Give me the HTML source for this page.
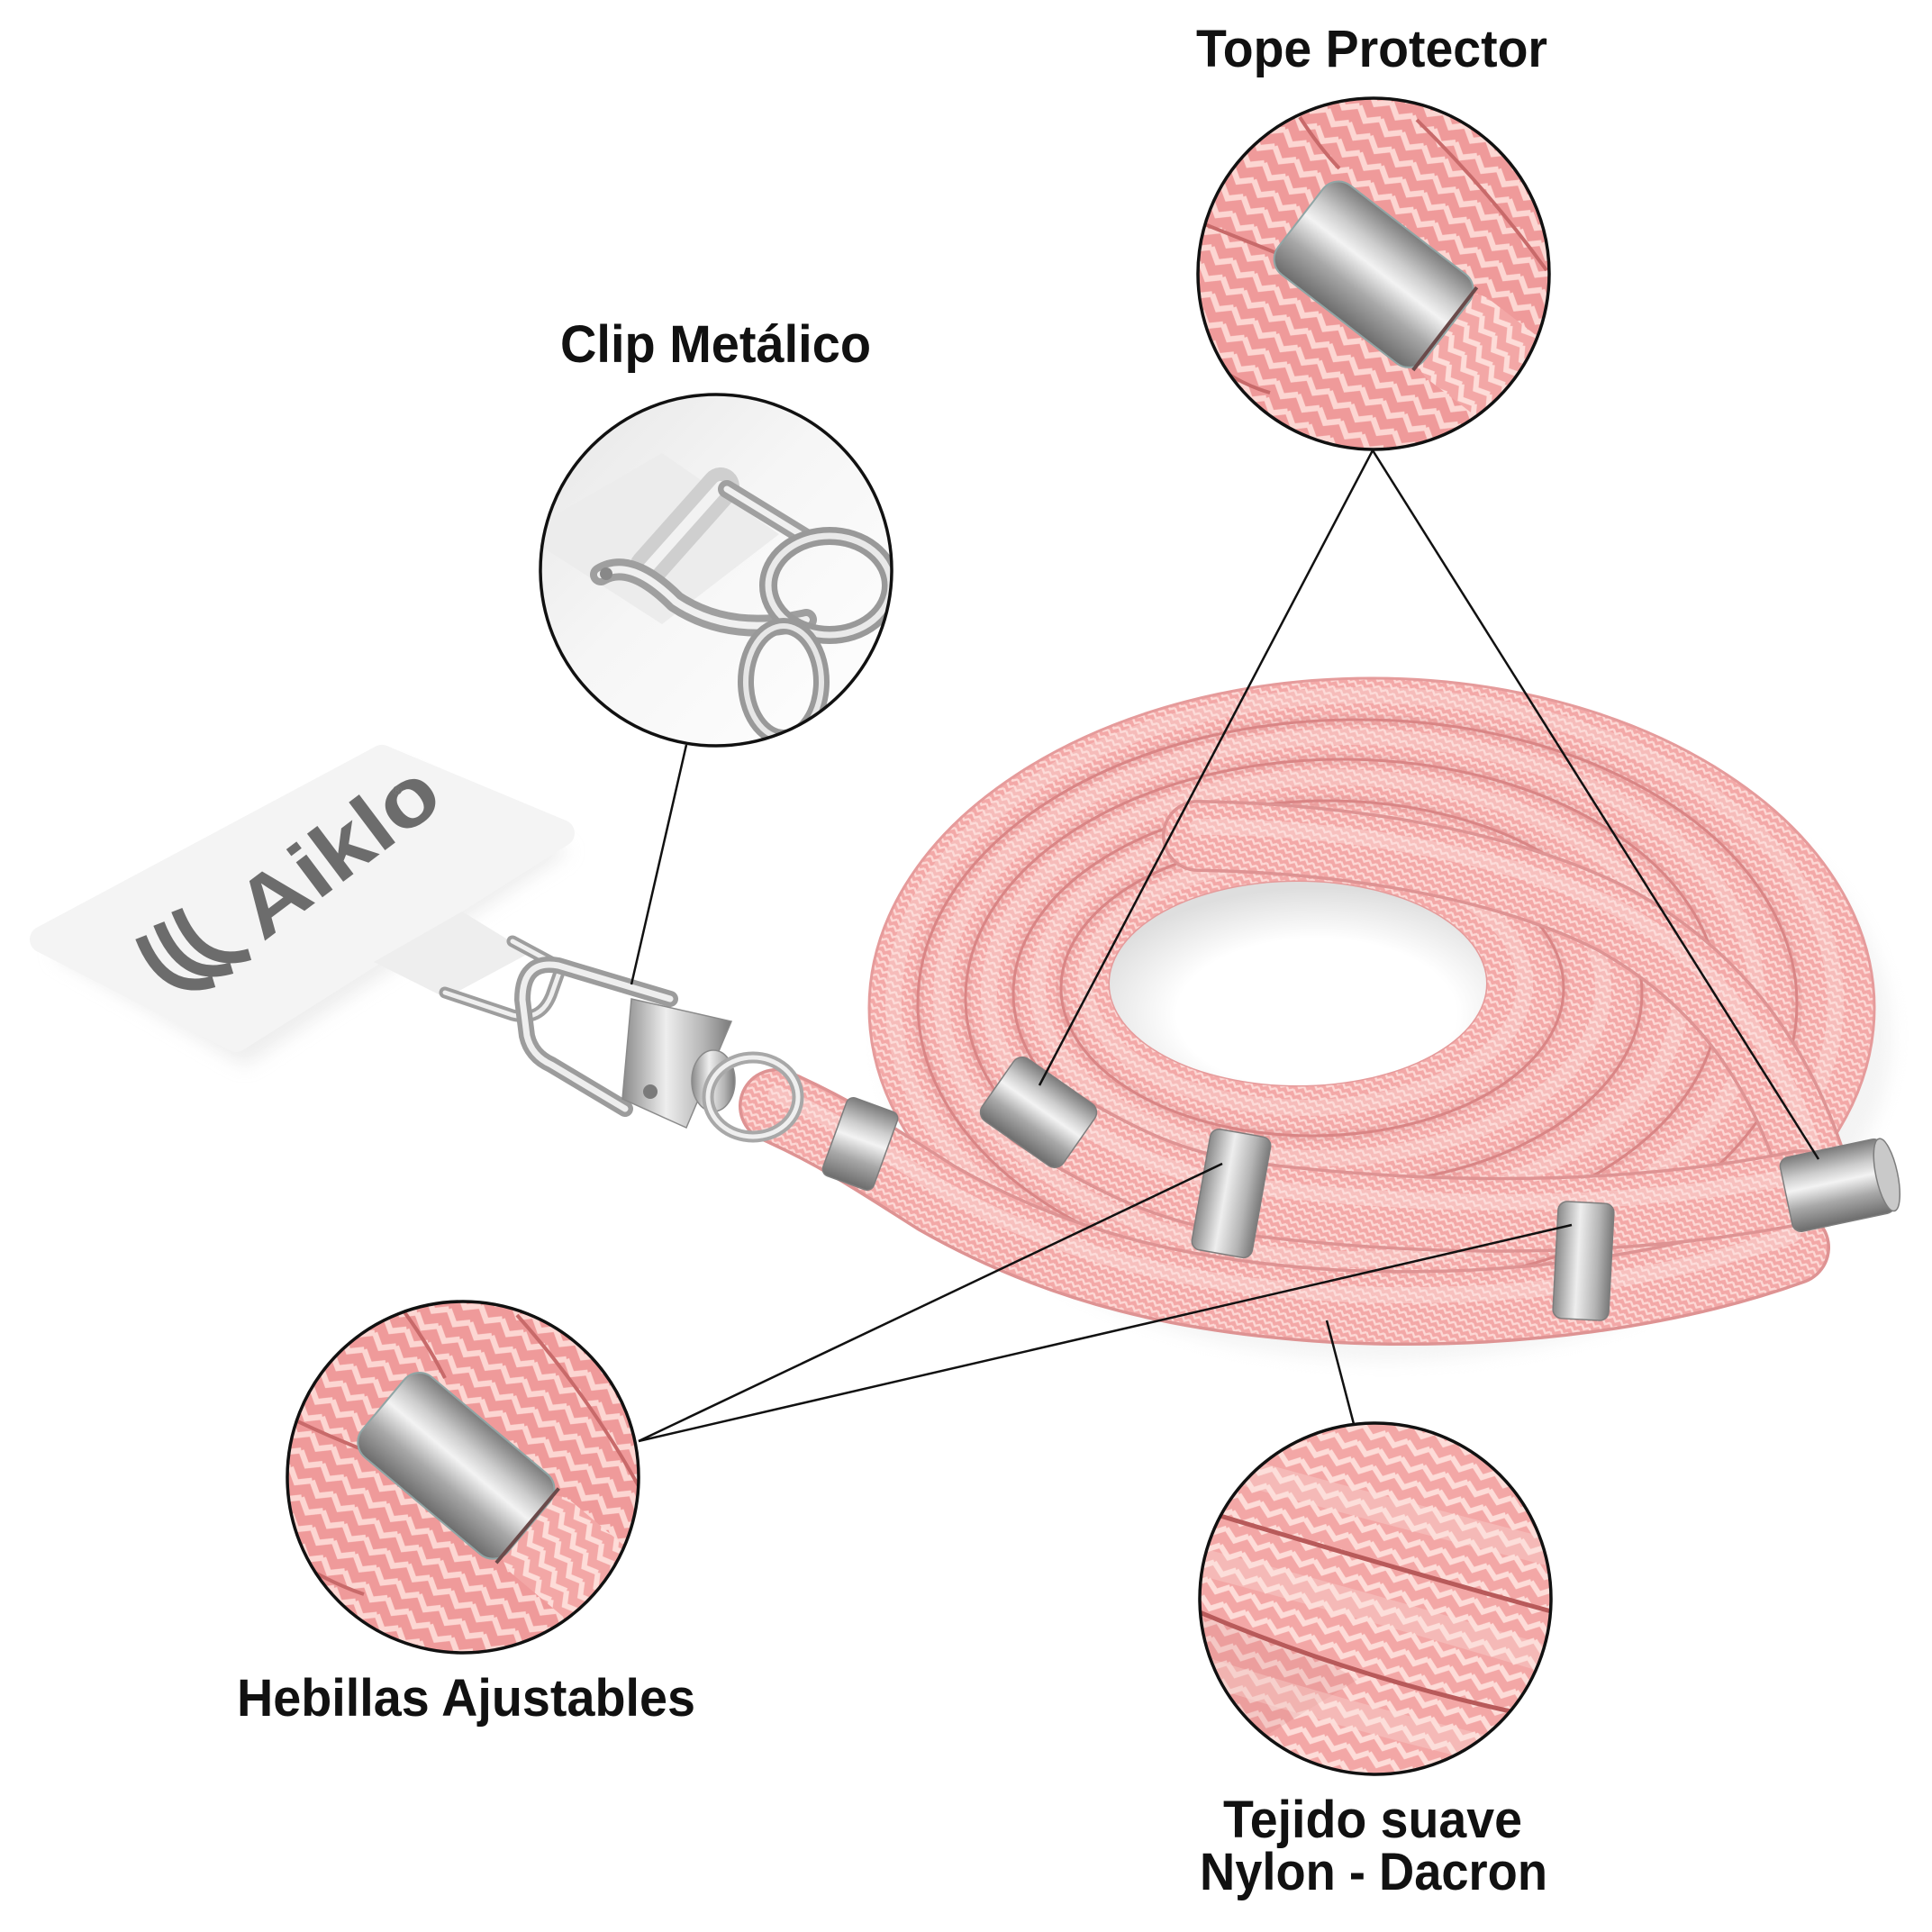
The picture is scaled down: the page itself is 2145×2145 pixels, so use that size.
<!DOCTYPE html>
<html><head><meta charset="utf-8">
<style>
html,body{margin:0;padding:0;background:#fff;}
svg{display:block;}
.lbl{font-family:"Liberation Sans",sans-serif;font-weight:700;fill:#111;}
</style></head><body>
<svg width="2145" height="2145" viewBox="0 0 2145 2145" xmlns="http://www.w3.org/2000/svg">
<defs>
 <pattern id="br" width="9" height="8" patternUnits="userSpaceOnUse" patternTransform="rotate(28)">
   <rect width="9" height="8" fill="#f3a8a7"/>
   <path d="M0,1.5 L4.5,5.5 L9,1.5" stroke="#fcd8d5" stroke-width="2.4" fill="none"/>
 </pattern>
 <pattern id="brB" width="28" height="22" patternUnits="userSpaceOnUse" patternTransform="rotate(32)">
   <rect width="28" height="22" fill="#ef9a9a"/>
   <path d="M0,4 L14,15 L28,4" stroke="#fcd6d2" stroke-width="6.5" fill="none"/>
 </pattern>
 <pattern id="brC" width="26" height="20" patternUnits="userSpaceOnUse" patternTransform="rotate(20)">
   <rect width="26" height="20" fill="#f3a7a6"/>
   <path d="M0,3 L13,13 L26,3" stroke="#fddcd8" stroke-width="6" fill="none"/>
 </pattern>
 <linearGradient id="silv" x1="0" y1="0" x2="0" y2="1">
   <stop offset="0" stop-color="#7b7b7b"/>
   <stop offset="0.28" stop-color="#cdcdcd"/>
   <stop offset="0.45" stop-color="#f3f3f3"/>
   <stop offset="0.7" stop-color="#a8a8a8"/>
   <stop offset="1" stop-color="#6c6c6c"/>
 </linearGradient>
 <linearGradient id="silvX" x1="0" y1="0" x2="1" y2="0">
   <stop offset="0" stop-color="#8a8a8a"/>
   <stop offset="0.4" stop-color="#eeeeee"/>
   <stop offset="0.75" stop-color="#b4b4b4"/>
   <stop offset="1" stop-color="#7a7a7a"/>
 </linearGradient>
 <radialGradient id="holeG" cx="0.55" cy="0.65" r="0.62">
   <stop offset="0.6" stop-color="#ffffff"/>
   <stop offset="1" stop-color="#dedede"/>
 </radialGradient>
 <linearGradient id="clipBg" x1="0" y1="0" x2="1" y2="1">
   <stop offset="0" stop-color="#e6e6e6"/>
   <stop offset="0.45" stop-color="#f6f6f6"/>
   <stop offset="1" stop-color="#ffffff"/>
 </linearGradient>
 <filter id="blur" x="-20%" y="-20%" width="140%" height="140%"><feGaussianBlur stdDeviation="10"/></filter>
 <clipPath id="cc"><circle cx="0" cy="0" r="195"/></clipPath>
</defs>

<rect width="2145" height="2145" fill="#fff"/>

<!-- ===== Card ===== -->
<polygon points="58,1060 434,852 633,945 272,1183" fill="#dcdcdc" opacity="0.5" filter="url(#blur)"/>
<polygon points="48,1043 424,842 623,925 262,1153" fill="#f4f4f4" stroke="#f4f4f4" stroke-width="30" stroke-linejoin="round"/>
<polygon points="415,1068 513,1012 588,1058 495,1108" fill="#eeeeee"/>
<g transform="translate(292,1046) rotate(-37)" fill="#6c6c6c">
  <text x="0" y="0" font-size="92" textLength="255" lengthAdjust="spacingAndGlyphs" style="font-family:'Liberation Sans',sans-serif;font-weight:700;fill:#6c6c6c">Aiklo</text>
  <path d="M-105,-86 Q-124,-18 -70,2" stroke="#6c6c6c" stroke-width="13" fill="none"/>
  <path d="M-80,-86 Q-99,-18 -45,2" stroke="#6c6c6c" stroke-width="13" fill="none"/>
  <path d="M-55,-86 Q-74,-18 -20,2" stroke="#6c6c6c" stroke-width="13" fill="none"/>
</g>
<text x="436" y="882" font-size="14" style="font-family:'Liberation Sans',sans-serif;fill:#777">®</text>

<!-- ===== Coil ===== -->
<ellipse cx="1540" cy="1150" rx="560" ry="360" fill="#e6e6e6" opacity="0.45" filter="url(#blur)"/>
<path fill-rule="evenodd" fill="url(#br)" stroke="#e59b9b" stroke-width="3"
 d="M965,1119 a558,366 0 1,0 1116,0 a558,366 0 1,0 -1116,0 Z M1232,1092 a209,113 0 1,0 418,0 a209,113 0 1,0 -418,0 Z"/>
<ellipse cx="1441" cy="1092" rx="209" ry="113" fill="url(#holeG)"/>
<g fill="none">
  <g stroke="#fde3e0" stroke-opacity="0.35" stroke-width="18">
    <ellipse cx="1515" cy="1113" rx="523" ry="341"/>
    <ellipse cx="1498" cy="1108" rx="453" ry="290"/>
    <ellipse cx="1482" cy="1103" rx="384" ry="240"/>
    <ellipse cx="1466" cy="1097" rx="314" ry="189"/>
    <ellipse cx="1449" cy="1092" rx="244" ry="138"/>
  </g>
  <g stroke="#c87070" stroke-opacity="0.14" stroke-width="12">
    <ellipse cx="1507" cy="1114" rx="488" ry="315"/>
    <ellipse cx="1490" cy="1108" rx="418" ry="265"/>
    <ellipse cx="1474" cy="1103" rx="349" ry="214"/>
    <ellipse cx="1457" cy="1097" rx="279" ry="164"/>
  </g>
  <g stroke="#d98585" stroke-width="3">
    <ellipse cx="1507" cy="1114" rx="488" ry="315"/>
    <ellipse cx="1490" cy="1108" rx="418" ry="265"/>
    <ellipse cx="1474" cy="1103" rx="349" ry="214"/>
    <ellipse cx="1457" cy="1097" rx="279" ry="164"/>
  </g>
</g>

<!-- crossing strand -->
<g fill="none" stroke-linecap="round">
  <path d="M1330,928 C1460,930 1650,950 1790,1020 C1900,1080 1970,1170 2010,1290" stroke="#de9393" stroke-width="80"/>
  <path d="M1330,928 C1460,930 1650,950 1790,1020 C1900,1080 1970,1170 2010,1290" stroke="url(#br)" stroke-width="73"/>
  <path d="M1330,918 C1460,918 1650,938 1795,1008 C1905,1068 1975,1160 2015,1280" stroke="#fde3e0" stroke-opacity="0.4" stroke-width="18"/>
</g>

<!-- front strand S1 (bottom, from clip) -->
<g fill="none" stroke-linecap="round">
  <path d="M862,1228 C930,1258 980,1292 1040,1330 C1180,1410 1320,1440 1480,1450 C1680,1460 1860,1432 1990,1385" stroke="#de9393" stroke-width="84"/>
  <path d="M862,1228 C930,1258 980,1292 1040,1330 C1180,1410 1320,1440 1480,1450 C1680,1460 1860,1432 1990,1385" stroke="url(#br)" stroke-width="77"/>
  <path d="M862,1214 C930,1244 980,1278 1040,1316 C1180,1396 1320,1426 1480,1436 C1680,1446 1860,1418 1990,1371" stroke="#fde3e0" stroke-opacity="0.4" stroke-width="18"/>
</g>
<!-- front strand S2 -->
<g fill="none" stroke-linecap="round">
  <path d="M1150,1235 C1240,1290 1300,1318 1380,1330 C1550,1352 1780,1362 2000,1318" stroke="#de9393" stroke-width="84"/>
  <path d="M1150,1235 C1240,1290 1300,1318 1380,1330 C1550,1352 1780,1362 2000,1318" stroke="url(#br)" stroke-width="77"/>
  <path d="M1150,1221 C1240,1276 1300,1304 1380,1316 C1550,1338 1780,1348 2000,1304" stroke="#fde3e0" stroke-opacity="0.4" stroke-width="18"/>
</g>

<!-- silver rings -->
<g stroke="#7d7d7d" stroke-width="1.5">
  <g transform="translate(955,1270) rotate(20)"><rect x="-30" y="-46" width="60" height="92" rx="8" fill="url(#silv)"/></g>
  <g transform="translate(1153,1235) rotate(35)"><rect x="-55" y="-42" width="110" height="84" rx="12" fill="url(#silv)"/></g>
  <g transform="translate(1367,1325) rotate(10)"><rect x="-34" y="-68" width="68" height="136" rx="10" fill="url(#silvX)"/></g>
  <g transform="translate(1758,1400) rotate(3)"><rect x="-31" y="-65" width="62" height="130" rx="10" fill="url(#silvX)"/></g>
  <g transform="translate(2040,1316) rotate(-12)"><rect x="-58" y="-42" width="116" height="84" rx="10" fill="url(#silv)"/>
    <ellipse cx="56" cy="0" rx="12" ry="41" fill="#c9c9c9"/></g>
</g>

<!-- ===== main clip ===== -->
<g fill="none" stroke-linecap="round" stroke-linejoin="round">
  <path d="M494,1102 L569,1127 Q600,1135 612,1105 L623,1074 L569,1045" stroke="#9e9e9e" stroke-width="13"/>
  <path d="M494,1102 L569,1127 Q600,1135 612,1105 L623,1074 L569,1045" stroke="#efefef" stroke-width="5"/>
  <path d="M744,1109 L620,1072 Q580,1065 580,1110 L585,1150 Q590,1172 612,1182 L694,1231" stroke="#9c9c9c" stroke-width="18"/>
  <path d="M744,1109 L620,1072 Q580,1065 580,1110 L585,1150 Q590,1172 612,1182 L694,1231" stroke="#eeeeee" stroke-width="7"/>
</g>
<polygon points="701,1109 812,1134 762,1252 691,1220" fill="url(#silvX)" stroke="#8a8a8a" stroke-width="1.5"/>
<circle cx="722" cy="1212" r="8" fill="#7a7a7a"/>
<ellipse cx="792" cy="1200" rx="24" ry="34" fill="url(#silvX)" stroke="#8a8a8a" stroke-width="1.5"/>
<ellipse cx="836" cy="1218" rx="50" ry="44" fill="none" stroke="#a8a8a8" stroke-width="13"/>
<ellipse cx="836" cy="1218" rx="50" ry="44" fill="none" stroke="#efefef" stroke-width="5"/>

<!-- ===== connector lines ===== -->
<g stroke="#111" stroke-width="2.5" fill="none">
  <line x1="762" y1="827" x2="701" y2="1093"/>
  <line x1="1524" y1="500" x2="1154" y2="1205"/>
  <line x1="1524" y1="500" x2="2019" y2="1287"/>
  <line x1="709" y1="1600" x2="1357" y2="1292"/>
  <line x1="709" y1="1600" x2="1745" y2="1360"/>
  <line x1="1473" y1="1466" x2="1503" y2="1581"/>
</g>

<!-- ===== Tope Protector inset ===== -->
<g transform="translate(1525,304)">
  <g clip-path="url(#cc)">
    <rect x="-200" y="-200" width="400" height="400" fill="url(#brB)"/>
    <g fill="none" stroke="#c86a6a" stroke-width="4">
      <path d="M-82,-174 Q-60,-140 -38,-117"/>
      <path d="M48,-171 Q130,-90 192,-4"/>
      <path d="M-200,-60 Q-150,-40 -100,-20"/>
      <path d="M-165,109 Q-140,125 -115,132"/>
    </g>
    <g transform="rotate(37.6)">
      <rect x="90" y="-56" width="180" height="112" rx="30" fill="url(#brC)"/>
      <rect x="-102" y="-62" width="205" height="125" rx="22" fill="url(#silv)" stroke="#8fa5a5" stroke-width="2"/>
      <line x1="100" y1="-58" x2="100" y2="58" stroke="#6a4a4a" stroke-width="4"/>
    </g>
  </g>
  <circle r="195" fill="none" stroke="#111" stroke-width="3.5"/>
</g>

<!-- ===== Hebillas inset ===== -->
<g transform="translate(514,1640)">
  <g clip-path="url(#cc)">
    <rect x="-200" y="-200" width="400" height="400" fill="url(#brB)"/>
    <g fill="none" stroke="#c86a6a" stroke-width="4">
      <path d="M-70,-190 Q-40,-150 -20,-110"/>
      <path d="M60,-180 Q140,-90 195,10"/>
      <path d="M-200,-70 Q-160,-50 -110,-30"/>
      <path d="M-175,100 Q-140,120 -110,130"/>
    </g>
    <g transform="translate(-8,-13) rotate(40)">
      <rect x="95" y="-52" width="180" height="104" rx="30" fill="url(#brC)"/>
      <rect x="-105" y="-58" width="211" height="116" rx="22" fill="url(#silv)" stroke="#8fa5a5" stroke-width="2"/>
      <line x1="104" y1="-54" x2="104" y2="54" stroke="#6a4a4a" stroke-width="4"/>
    </g>
  </g>
  <circle r="195" fill="none" stroke="#111" stroke-width="3.5"/>
</g>

<!-- ===== Tejido inset ===== -->
<g transform="translate(1527,1775)">
  <g clip-path="url(#cc)">
    <rect x="-200" y="-200" width="400" height="400" fill="url(#brC)"/>
    <path d="M-200,20 Q-100,40 -20,90 L-200,200 Z" fill="#d88080" opacity="0.22"/>
    <g fill="none" stroke="#b85a5a" stroke-linecap="round">
      <path d="M-172,-92 Q0,-40 195,14" stroke-width="5"/>
      <path d="M-195,15 Q-30,85 150,125" stroke-width="5"/>
    </g>
    <g fill="none" stroke="#fde3df" stroke-opacity="0.3" stroke-width="30">
      <path d="M-180,-150 Q0,-100 200,-50"/>
      <path d="M-190,-40 Q0,10 200,70"/>
      <path d="M-190,80 Q0,140 180,180"/>
    </g>
  </g>
  <circle r="195" fill="none" stroke="#111" stroke-width="3.5"/>
</g>

<!-- ===== Clip inset ===== -->
<g transform="translate(795,633)">
  <g clip-path="url(#cc)">
    <rect x="-200" y="-200" width="400" height="400" fill="url(#clipBg)"/>
    <polygon points="-215,-40 -60,-130 70,-40 -60,60" fill="#ececec"/>
    <g fill="none" stroke-linecap="round" stroke-linejoin="round">
      <line x1="-75" y1="-3" x2="5" y2="-93" stroke="#cfcfcf" stroke-width="42"/>
      <line x1="-75" y1="-3" x2="5" y2="-93" stroke="#f2f2f2" stroke-width="12"/>
      <path d="M12,-90 L100,-36" stroke="#a0a0a0" stroke-width="20"/>
      <path d="M12,-90 L100,-36" stroke="#f0f0f0" stroke-width="7"/>
      <path d="M-128,5 Q-95,-15 -45,35 Q15,75 100,55" stroke="#9f9f9f" stroke-width="24"/>
      <path d="M-128,5 Q-95,-15 -45,35 Q15,75 100,55" stroke="#f0f0f0" stroke-width="8"/>
      <ellipse cx="126" cy="17" rx="68" ry="55" stroke="#999" stroke-width="20"/>
      <ellipse cx="126" cy="17" rx="68" ry="55" stroke="#e9e9e9" stroke-width="7"/>
      <ellipse cx="75" cy="124" rx="42" ry="62" stroke="#999" stroke-width="18"/>
      <ellipse cx="75" cy="124" rx="42" ry="62" stroke="#e6e6e6" stroke-width="6"/>
    </g>
    <circle cx="-122" cy="4" r="7" fill="#888"/>
  </g>
  <circle r="195" fill="none" stroke="#111" stroke-width="3.5"/>
</g>

<!-- ===== Labels ===== -->
<text class="lbl" x="1328" y="74" font-size="58" textLength="390" lengthAdjust="spacingAndGlyphs">Tope Protector</text>
<text class="lbl" x="622" y="402" font-size="58" textLength="345" lengthAdjust="spacingAndGlyphs">Clip Metálico</text>
<text class="lbl" x="263" y="1905" font-size="58" textLength="509" lengthAdjust="spacingAndGlyphs">Hebillas Ajustables</text>
<text class="lbl" x="1358" y="2040" font-size="58" textLength="332" lengthAdjust="spacingAndGlyphs">Tejido suave</text>
<text class="lbl" x="1332" y="2098" font-size="58" textLength="386" lengthAdjust="spacingAndGlyphs">Nylon - Dacron</text>
</svg>
</body></html>
